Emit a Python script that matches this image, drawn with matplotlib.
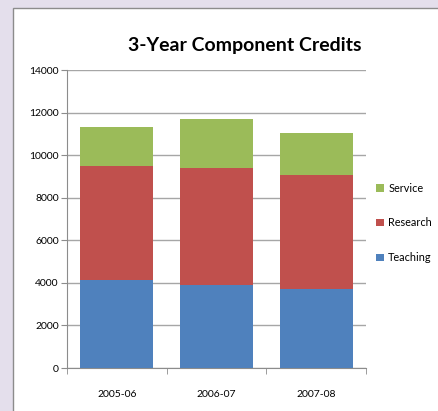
import matplotlib.pyplot as plt
from matplotlib.patches import Rectangle

years = ['2005-06', '2006-07', '2007-08']
teaching = [4150, 3900, 3700]
research = [5350, 5500, 5350]
service = [1800, 2300, 2000]

plt.rcParams['font.family'] = ['Lato', 'DejaVu Sans']

fig = plt.figure(figsize=(4.38, 4.11), dpi=100)
fig.patch.set_facecolor('#E4DFEC')
# white chart area with grey border
fig.patches.append(Rectangle((13 / 438, -0.01), 1.0, 1 - 8 / 411 + 0.01, transform=fig.transFigure,
                             facecolor='white', edgecolor='#8C8C8C', linewidth=1.0, zorder=-5))

ax = fig.add_axes([67 / 438, 1 - 368 / 411, (366 - 67) / 438, (368 - 70) / 411])
ax.set_zorder(2)
ax.patch.set_alpha(0)
x = range(len(years))
bottom2 = [t + r for t, r in zip(teaching, research)]
ax.bar(x, teaching, width=0.73, color='#4F81BD', label='Teaching', zorder=3)
ax.bar(x, research, width=0.73, bottom=teaching, color='#C0504D', label='Research', zorder=3)
ax.bar(x, service, width=0.73, bottom=bottom2, color='#9BBB59', label='Service', zorder=3)

ax.set_xlim(-0.5, 2.5)
ax.set_ylim(0, 14000)
ax.set_yticks(range(0, 14001, 2000))
ax.set_xticks(list(x))
ax.set_xticklabels(years, fontsize=7.5)
ax.set_xticks([-0.5, 0.5, 1.5, 2.5], minor=True)
ax.tick_params(axis='x', which='major', length=0, pad=16)
ax.tick_params(axis='x', which='minor', length=4, color='#8C8C8C')
ax.tick_params(axis='y', labelsize=7.5, length=4, color='#8C8C8C', pad=2)
ax.yaxis.grid(True, color='#A6A6A6', linewidth=1.0, zorder=0)
for s in ['top', 'right']:
    ax.spines[s].set_visible(False)
for s in ['left', 'bottom']:
    ax.spines[s].set_color('#8C8C8C')

fig.text(245 / 438, 1 - 45 / 411, '3-Year Component Credits', fontsize=14, fontweight='bold',
         ha='center', va='center')

h, l = ax.get_legend_handles_labels()
fig.legend(h[::-1], l[::-1], loc='center left', bbox_to_anchor=(372 / 438, 1 - 223 / 411),
           frameon=False, fontsize=7.8, handlelength=0.7, handleheight=0.7,
           handletextpad=0.4, labelspacing=2.2, borderaxespad=0)

fig.savefig('out.png', dpi=100, facecolor=fig.get_facecolor())
